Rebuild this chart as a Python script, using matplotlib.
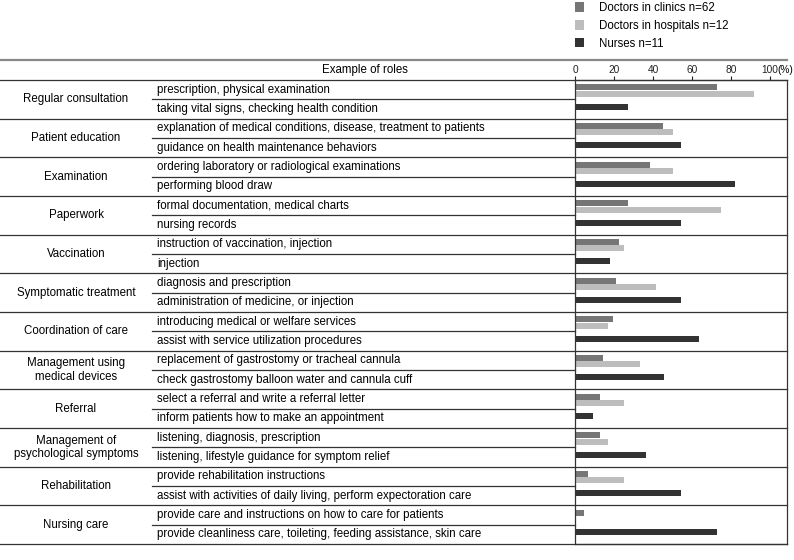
import matplotlib.pyplot as plt

plt.rcParams['font.family'] = ['Liberation Sans', 'DejaVu Sans']
plt.rcParams['font.size'] = 8.3

# categories and example roles (two roles per category)
categories = ['Regular consultation', 'Patient education', 'Examination', 'Paperwork',
              'Vaccination', 'Symptomatic treatment', 'Coordination of care',
              'Management using\nmedical devices', 'Referral',
              'Management of\npsychological symptoms', 'Rehabilitation', 'Nursing care']
roles_doctor = ['prescription, physical examination',
                'explanation of medical conditions, disease, treatment to patients',
                'ordering laboratory or radiological examinations',
                'formal documentation, medical charts',
                'instruction of vaccination, injection',
                'diagnosis and prescription',
                'introducing medical or welfare services',
                'replacement of gastrostomy or tracheal cannula',
                'select a referral and write a referral letter',
                'listening, diagnosis, prescription',
                'provide rehabilitation instructions',
                'provide care and instructions on how to care for patients']
roles_nurse = ['taking vital signs, checking health condition',
               'guidance on health maintenance behaviors',
               'performing blood draw',
               'nursing records',
               'injection',
               'administration of medicine, or injection',
               'assist with service utilization procedures',
               'check gastrostomy balloon water and cannula cuff',
               'inform patients how to make an appointment',
               'listening, lifestyle guidance for symptom relief',
               'assist with activities of daily living, perform expectoration care',
               'provide cleanliness care, toileting, feeding assistance, skin care']

# percentages
clinics = [72.6, 45.2, 38.7, 27.4, 22.6, 21.0, 19.4, 14.5, 12.9, 12.9, 6.5, 4.8]
hospitals = [91.7, 50.0, 50.0, 75.0, 25.0, 41.7, 16.7, 33.3, 25.0, 16.7, 25.0, 0.0]
nurses = [27.3, 54.5, 81.8, 54.5, 18.2, 54.5, 63.6, 45.5, 9.1, 36.4, 54.5, 72.7]

labels = ['Doctors in clinics n=62', 'Doctors in hospitals n=12', 'Nurses n=11']
colors = ['#767676', '#bdbdbd', '#333333']

W, H = 794, 560
fig = plt.figure(figsize=(W / 100, H / 100), dpi=100)

top_px, bot_px = 80, 544
x_axis0, x_right = 575, 787
n = len(categories)

# table axes (pixel x, category y)
tab = fig.add_axes([0, 1 - bot_px / H, x_right / W, (bot_px - top_px) / H])
tab.set_xlim(0, x_right)
tab.set_ylim(n, 0)
tab.axis('off')

# bar axes
ax = fig.add_axes([x_axis0 / W, 1 - bot_px / H, (x_right - x_axis0) / W, (bot_px - top_px) / H])
ax.set_xlim(0, (x_right - x_axis0) / 1.95)
ax.set_ylim(n, 0)
ax.patch.set_alpha(0)

ys = list(range(n))
h = 0.155
ax.barh([y + 0.19 for y in ys], clinics, height=h, color=colors[0], label=labels[0])
ax.barh([y + 0.35 for y in ys], hospitals, height=h, color=colors[1], label=labels[1])
ax.barh([y + 0.69 for y in ys], nurses, height=h, color=colors[2], label=labels[2])

ax.xaxis.tick_top()
ax.set_xticks([0, 20, 40, 60, 80, 100])
ax.tick_params(axis='x', length=2.6, width=0.8, pad=0.8, labelsize=7.3, colors='#222222')
ax.set_yticks([])
for s in ['top', 'left', 'right', 'bottom']:
    ax.spines[s].set_linewidth(0.9)
    ax.spines[s].set_color('#333333')
fig.text(0.999, 1 - 70 / H, '(%)', ha='right', va='center', fontsize=7.3)

# table lines
lc = '#333333'
for i in range(n + 1):
    tab.plot([0, x_right], [i, i], color=lc, lw=0.9, clip_on=False)
for i in range(n):
    tab.plot([152, x_axis0], [i + 0.5, i + 0.5], color=lc, lw=0.9, clip_on=False)
tab.plot([0, x_right], [-0.517, -0.517], color='#888888', lw=1.6, clip_on=False)

tab.text(365, -0.26, 'Example of roles', ha='center', va='center', clip_on=False)
for i in range(n):
    tab.text(76, i + 0.5, categories[i], ha='center', va='center', linespacing=1.15)
    tab.text(157, i + 0.25, roles_doctor[i], ha='left', va='center')
    tab.text(157, i + 0.75, roles_nurse[i], ha='left', va='center')

fig.legend(loc='upper left', bbox_to_anchor=(565 / W, 1.015), frameon=False,
           handlelength=0.75, handleheight=0.9, handletextpad=1.3, labelspacing=0.5,
           fontsize=8.3)

fig.savefig('out.png', dpi=100)
